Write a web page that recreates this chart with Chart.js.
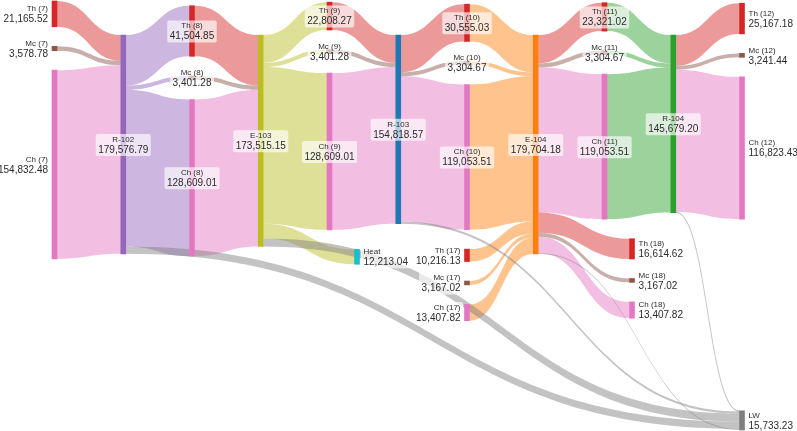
<!DOCTYPE html>
<html>
<head>
<meta charset="utf-8">
<script src="https://cdn.jsdelivr.net/npm/chart.js@4.4.1/dist/chart.umd.min.js"></script>
<style>
  html, body { margin: 0; padding: 0; background: #fff; }
  #wrap { width: 797px; height: 431px; }
</style>
</head>
<body>
<div id="wrap"><canvas id="sankey" width="797" height="431"></canvas></div>
<script>
// --- data -----------------------------------------------------------------
// stream numbers, each stream carries three components
const streamIds = [7, 8, 9, 10, 11, 12, 17, 18];
const componentNames = ['Th', 'Mc', 'Ch'];
const thValues = [21165.52, 41504.85, 22808.27, 30555.03, 23321.02, 25167.18, 10216.13, 16614.62];
const mcValues = [3578.78, 3401.28, 3401.28, 3304.67, 3304.67, 3241.44, 3167.02, 3167.02];
const chValues = [154832.48, 128609.01, 128609.01, 119053.51, 119053.51, 116823.43, 13407.82, 13407.82];
// unit each stream leaves / enters (null = outside the flowsheet)
const streamFrom = [null, 'R-102', 'E-103', 'R-103', 'E-104', 'R-104', null, 'E-104'];
const streamTo = ['R-102', 'E-103', 'R-103', 'E-104', 'R-104', null, 'E-104', null];

const unitNames = ['R-102', 'E-103', 'R-103', 'E-104', 'R-104'];
const unitTotals = [179576.79, 173515.15, 154818.57, 179704.18, 145679.20];

const heatSource = 'E-103';
const heatValue = 12213.04;

const lossSources = ['R-102', 'E-103', 'R-103', 'E-104', 'R-104'];
const lossValues = [6061.65, 6483.55, 1905.36, 835.52, 447.15];

// --- style ----------------------------------------------------------------
const componentColors = { Th: '#d62728', Mc: '#8c564b', Ch: '#e377c2' };
const unitColors = ['#9467bd', '#bcbd22', '#1f77b4', '#ff7f0e', '#2ca02c'];
const heatColor = '#17becf';
const lossColor = '#7f7f7f';
// side of a unit whose links take the unit colour
const unitTint = { 'R-102': 'out', 'E-103': 'out', 'E-104': 'in', 'R-104': 'in' };
const LINK_ALPHA = 0.47;
const NODE_W = 5;
const NODE_PAD = 16000;   // gap between stacked nodes, in flow units
const SIDE_SHIFT = 0.4;   // products leaving mid-way sit a bit right of their stage
const Y_MAX = 352000;
const NAME_FONT = '8px "Liberation Sans", Arial, sans-serif';
const VALUE_FONT = '10px "Liberation Sans", Arial, sans-serif';
const TEXT_COLOR = '#2b2b2b';
const BOX_FILL = 'rgba(255, 255, 255, 0.65)';

function fade(hex, a) {
    const v = parseInt(hex.slice(1), 16);
    return `rgba(${v >> 16}, ${(v >> 8) & 255}, ${v & 255}, ${a})`;
}
function fmt(v) {
    return v.toLocaleString('en-US', { minimumFractionDigits: 2, maximumFractionDigits: 2 });
}

// --- graph ----------------------------------------------------------------
const nodes = [];
const byName = {};
function addNode(name, label, value, color, isUnit) {
    const n = { name, label, value, color, isUnit: !!isUnit, inLinks: [], outLinks: [] };
    nodes.push(n);
    byName[name] = n;
    return n;
}
unitNames.forEach((u, i) => addNode(u, u, unitTotals[i], unitColors[i], true));

const groups = [];
streamIds.forEach((id, i) => {
    const vals = [thValues[i], mcValues[i], chValues[i]];
    groups.push(componentNames.map((c, k) =>
        addNode(c + id, c + ' (' + id + ')', vals[k], componentColors[c])));
});
groups.push([addNode('Heat', 'Heat', heatValue, heatColor)]);
const lossNode = addNode('LW', 'LW', lossValues.reduce((a, b) => a + b, 0), lossColor);
groups.forEach(g => g.forEach(n => { n.group = g; }));

const links = [];
function addLink(s, t, value, color) {
    const l = { source: byName[s], target: byName[t], value, color };
    links.push(l);
    l.source.outLinks.push(l);
    l.target.inLinks.push(l);
}
function tintFor(unit, side, fallback) {
    return unitTint[unit] === side ? unitColors[unitNames.indexOf(unit)] : fallback;
}
streamIds.forEach((id, i) => {
    componentNames.forEach(c => {
        const name = c + id;
        const value = byName[name].value;
        if (streamFrom[i]) addLink(streamFrom[i], name, value, tintFor(streamFrom[i], 'out', componentColors[c]));
        if (streamTo[i]) addLink(name, streamTo[i], value, tintFor(streamTo[i], 'in', componentColors[c]));
    });
});
addLink(heatSource, 'Heat', heatValue, tintFor(heatSource, 'out', heatColor));
lossSources.forEach((u, i) => addLink(u, 'LW', lossValues[i], lossColor));

// --- stages (columns) -------------------------------------------------------
nodes.forEach(n => n.stage = 0);
for (let pass = 0; pass < nodes.length; pass++) {
    links.forEach(l => { l.target.stage = Math.max(l.target.stage, l.source.stage + 1); });
}
// feeds sit just left of the unit they enter
nodes.filter(n => !n.inLinks.length).forEach(n => {
    n.stage = Math.min(...n.outLinks.map(l => l.target.stage)) - 1;
});
const lastStage = Math.max(...nodes.map(n => n.stage));
nodes.forEach(n => {
    n.x = n.stage;
    if (!n.outLinks.length && n.stage < lastStage) n.x += SIDE_SHIFT;
});

// --- vertical layout ---------------------------------------------------------
const center = n => n.y0 + n.value / 2;
function place(n, y0) { n.y0 = y0; n.y1 = y0 + n.value; }
function stack(group, top) {
    let y = top;
    group.forEach(n => { place(n, y); y += n.value + NODE_PAD; });
}
function computeSlots() {
    nodes.forEach(n => {
        let y = n.y0;
        n.outLinks.slice().sort((a, b) => center(a.target) - center(b.target))
            .forEach(l => { l.y0 = y; y += l.value; });
        y = n.y0;
        n.inLinks.slice().sort((a, b) => center(a.source) - center(b.source))
            .forEach(l => { l.y1 = y; y += l.value; });
    });
}
// a stream group is a rigid stack, moved to sit as close as it can to its link ends
function fitGroup(g) {
    let off = 0, num = 0, den = 0;
    g.forEach(n => {
        const ends = [...n.inLinks.map(l => l.y0 + l.value / 2), ...n.outLinks.map(l => l.y1 + l.value / 2)];
        const want = ends.reduce((a, b) => a + b, 0) / ends.length;
        num += n.value * (want - (off + n.value / 2));
        den += n.value;
        off += n.value + NODE_PAD;
    });
    stack(g, num / den);
}
// a unit lines its main feed up with where that feed left the unit before it;
// side feeds hang below and do not pull
function placeUnit(u) {
    let num = 0, den = 0;
    u.inLinks.forEach(l => {
        const src = l.source;
        if (src.group && src.group.role === 'below') return;
        const feed = src.inLinks[0];
        const want = feed ? feed.y0 + feed.value / 2 : center(src);
        num += l.value * (want - (l.y1 - u.y0 + l.value / 2));
        den += l.value;
    });
    place(u, num / den);
}

groups.forEach(g => { g.stage = g[0].stage; });
groups.forEach(g => {
    if (g.every(n => n.inLinks.length && n.outLinks.length)) g.role = 'fit';
});
groups.forEach(g => {
    if (g.role) return;
    const host = groups.find(h => h !== g && h.role === 'fit' && h.stage === g.stage);
    if (host) { g.role = 'below'; g.host = host; } else g.role = 'fit';
});

groups.forEach(g => stack(g, 0));
nodes.filter(n => n.isUnit).forEach(n => place(n, 0));
place(lossNode, Y_MAX - lossNode.value);
for (let it = 0; it < 120; it++) {
    for (let s = 0; s <= lastStage; s++) {
        computeSlots();
        nodes.filter(n => n.isUnit && n.stage === s).forEach(placeUnit);
        computeSlots();
        groups.filter(g => g.stage === s && g.role === 'fit').forEach(fitGroup);
        groups.filter(g => g.stage === s && g.role === 'below')
            .forEach(g => stack(g, g.host[g.host.length - 1].y1 + NODE_PAD));
    }
    const top = Math.min(...nodes.filter(n => n !== lossNode).map(n => n.y0));
    nodes.forEach(n => { if (n !== lossNode) place(n, n.y0 - top); });
    place(lossNode, Y_MAX - lossNode.value);
}
computeSlots();

// --- drawing -----------------------------------------------------------------
const linkPlugin = {
    id: 'sankeyLinks',
    beforeDatasetsDraw(chart) {
        const { ctx, scales: { x, y } } = chart;
        ctx.save();
        links.forEach(l => {
            const x0 = x.getPixelForValue(l.source.x) + NODE_W / 2;
            const x1 = x.getPixelForValue(l.target.x) - NODE_W / 2;
            const xm = (x0 + x1) / 2;
            const a0 = y.getPixelForValue(l.y0), b0 = y.getPixelForValue(l.y0 + l.value);
            const a1 = y.getPixelForValue(l.y1), b1 = y.getPixelForValue(l.y1 + l.value);
            ctx.beginPath();
            ctx.moveTo(x0, a0);
            ctx.bezierCurveTo(xm, a0, xm, a1, x1, a1);
            ctx.lineTo(x1, b1);
            ctx.bezierCurveTo(xm, b1, xm, b0, x0, b0);
            ctx.closePath();
            ctx.fillStyle = fade(l.color, LINK_ALPHA);
            ctx.fill();
            if (b0 - a0 < 1) {   // keep hairline flows visible
                ctx.beginPath();
                ctx.moveTo(x0, (a0 + b0) / 2);
                ctx.bezierCurveTo(xm, (a0 + b0) / 2, xm, (a1 + b1) / 2, x1, (a1 + b1) / 2);
                ctx.lineWidth = 0.7;
                ctx.strokeStyle = fade(l.color, 0.6);
                ctx.stroke();
            }
        });
        ctx.restore();
    }
};

const labelPlugin = {
    id: 'sankeyLabels',
    afterDatasetsDraw(chart) {
        const { ctx, scales: { x, y } } = chart;
        ctx.save();
        ctx.textBaseline = 'middle';
        nodes.forEach(n => {
            const px = x.getPixelForValue(n.x);
            const py = y.getPixelForValue(center(n));
            const name = n.label, val = fmt(n.value);
            ctx.font = NAME_FONT;
            const w1 = ctx.measureText(name).width;
            ctx.font = VALUE_FONT;
            const w2 = ctx.measureText(val).width;
            const w = Math.max(w1, w2) + 5, h = 22;
            let left, tx, align;
            if (!n.inLinks.length) {
                left = px - NODE_W / 2 - 1.5 - w; tx = left + w - 2.5; align = 'right';
            } else if (!n.outLinks.length) {
                left = px + NODE_W / 2 + 1.5; tx = left + 2.5; align = 'left';
            } else {
                left = px - w / 2; tx = px; align = 'center';
            }
            ctx.fillStyle = BOX_FILL;
            ctx.beginPath();
            ctx.roundRect(left, py - 10.5, w, h, 2);
            ctx.fill();
            ctx.fillStyle = TEXT_COLOR;
            ctx.textAlign = align;
            ctx.font = NAME_FONT;
            ctx.fillText(name, tx, py - 5);
            ctx.font = VALUE_FONT;
            ctx.fillText(val, tx, py + 5.5);
        });
        ctx.restore();
    }
};

const ctx = document.getElementById('sankey').getContext('2d');
window.sankeyChart = new Chart(ctx, {
    type: 'bar',
    data: {
        datasets: [{
            data: nodes.map(n => ({ x: n.x, y: [n.y0, n.y1] })),
            backgroundColor: nodes.map(n => n.color),
            borderWidth: 0,
            barThickness: NODE_W,
            clip: false
        }]
    },
    options: {
        responsive: false,
        animation: false,
        layout: { padding: { left: 54.5, right: 55, top: 1, bottom: 1 } },
        scales: {
            x: { type: 'linear', min: 0, max: lastStage, offset: false, display: false },
            y: { type: 'linear', min: 0, max: Y_MAX, reverse: true, display: false }
        },
        plugins: {
            legend: { display: false },
            tooltip: { enabled: false }
        }
    },
    plugins: [linkPlugin, labelPlugin]
});
</script>
</body>
</html>
